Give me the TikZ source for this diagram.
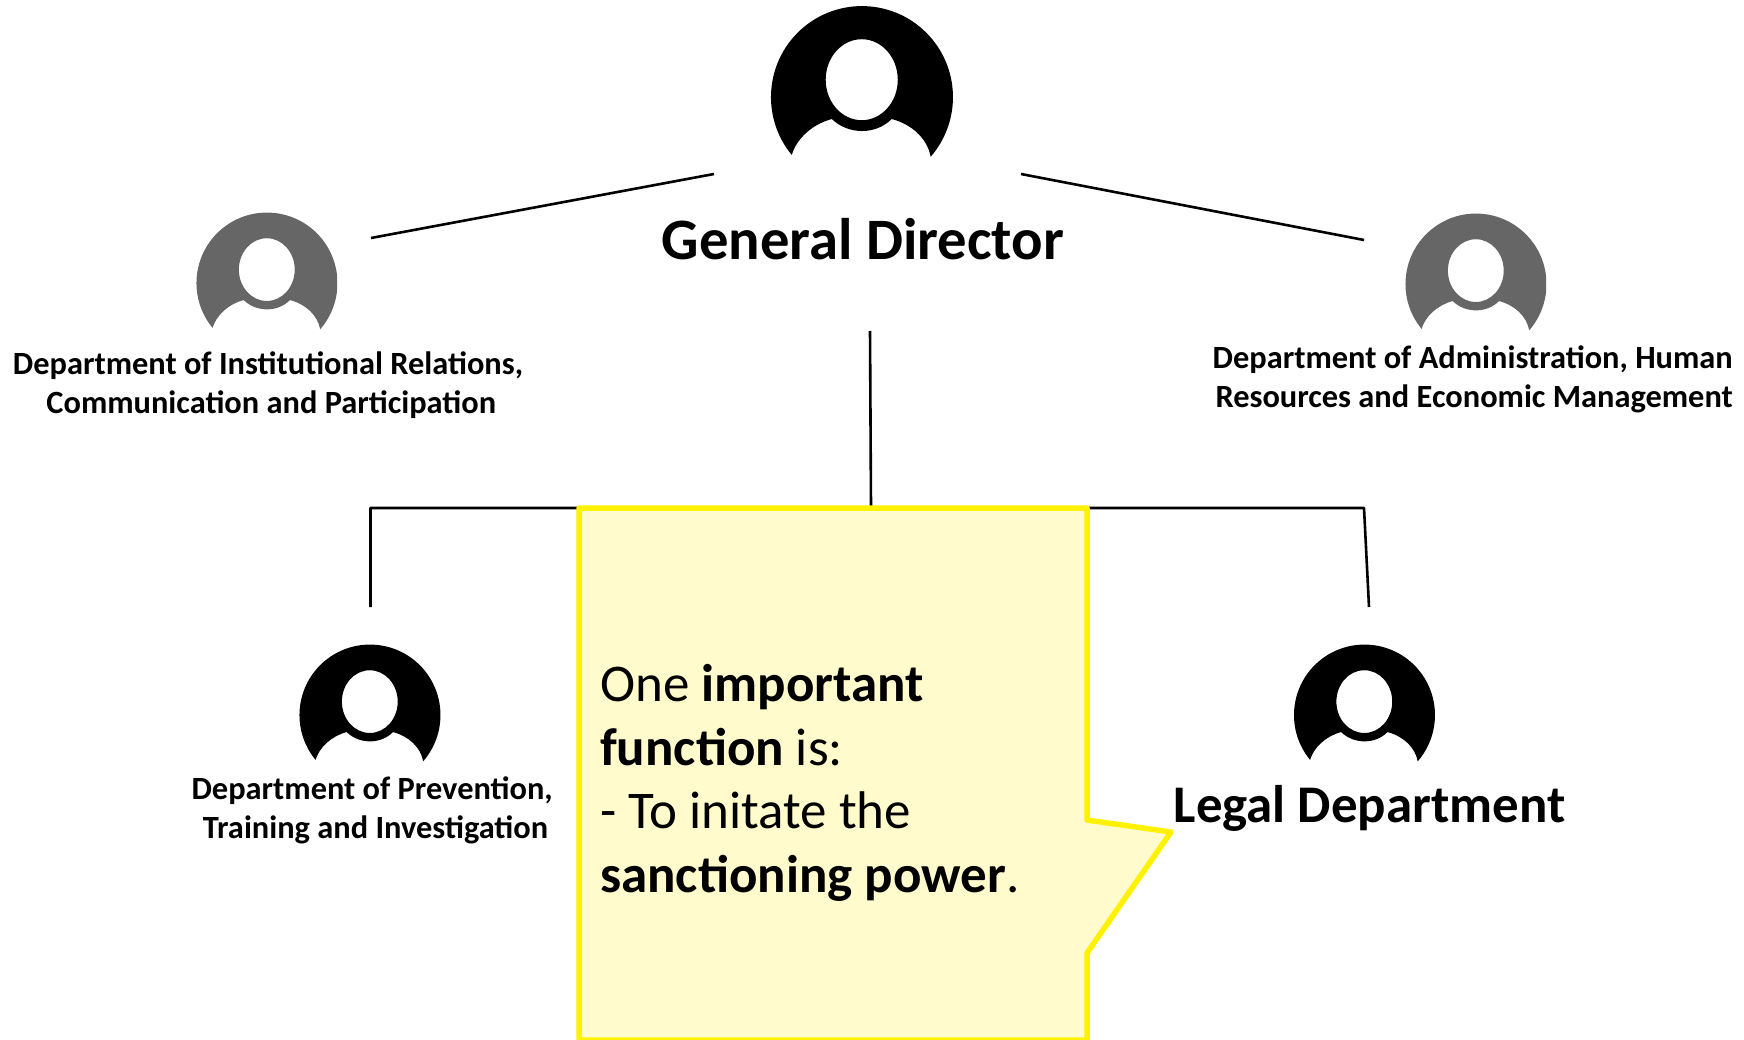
\documentclass[tikz,border=0pt]{standalone}
\usepackage{fontspec}
\setmainfont{Carlito}
\definecolor{noteyellow}{HTML}{FFF200}
\definecolor{notefill}{HTML}{FFFBCC}
\definecolor{avgrey}{HTML}{666666}
\newcommand{\avatar}[4]{% x, y, r, colour
  \begin{scope}[shift={(#1,#2)},x=#3pt,y=-#3pt]
    \fill[#4,even odd rule]
      (-0.772,0.637) arc[start angle=140.5,end angle=401,radius=1]
      .. controls (0.72,0.46) and (0.55,0.30) .. (0.326,0.242)
      .. controls (0.24,0.33) and (0.12,0.374) .. (0,0.374)
      .. controls (-0.12,0.374) and (-0.24,0.33) .. (-0.332,0.242)
      .. controls (-0.55,0.30) and (-0.72,0.46) .. cycle
      (-0.003,-0.19) ellipse[x radius=0.396,y radius=0.445];
  \end{scope}}
\tikzset{
  link/.style={draw=black,line width=2.6pt,line cap=butt,line join=round},
  note/.style={draw=noteyellow,fill=notefill,line width=5.5pt,line join=round},
  deptlabel/.style={font=\fontsize{32.4}{39}\selectfont\bfseries,align=center,inner sep=0pt,text=black},
}
\begin{document}
\begin{tikzpicture}[x=1pt,y=-1pt]
\useasboundingbox (0,0) rectangle (1744,1040);
\avatar{862}{97}{91}{black}
\begin{scope}
\clip (190,200) rectangle (337,340);
\avatar{267}{283}{70.5}{avgrey}
\end{scope}
\begin{scope}
\clip (1395,200) rectangle (1546,340);
\avatar{1476}{284}{70.5}{avgrey}
\end{scope}
\avatar{370}{715}{70.5}{black}
\avatar{1364.5}{715}{70.5}{black}

\node[inner sep=0pt,font=\fontsize{58.7}{60}\selectfont\bfseries] (gd) at (863,239) {General Director};
\node[deptlabel] (irel) at (268,385) {Department of Institutional Relations,\\\hspace*{6.6pt}Communication and Participation};
\node[deptlabel,align=right,anchor=east] (admin) at (1733,379) {Department of Administration, Human\\Resources and Economic Management};
\node[deptlabel] (prev) at (372.2,810) {Department of Prevention,\\\hspace*{6.6pt}Training and Investigation};
\node[inner sep=0pt,font=\fontsize{52.9}{56}\selectfont\bfseries] (legal) at (1369.5,808) {Legal Department};

\coordinate (gdl) at (714,174);
\coordinate (irl) at (371,238);
\coordinate (gdr) at (1021,174);
\coordinate (adr) at (1364,240);
\coordinate (gdb) at (870,331);
\coordinate (jun) at (871,508);
\coordinate (ll) at (370.5,508);
\coordinate (lb) at (370.5,607);
\coordinate (rr) at (1364,508);
\coordinate (rb) at (1369,607);
\draw[link] (gdl) -- (irl);
\draw[link] (gdr) -- (adr);
\draw[link] (gdb) -- (jun);
\draw[link] (lb) -- (ll) -- (rr) -- (rb);

\draw[note] (579,508) -- (1087,508) -- (1087,820) -- (1171,832) -- (1087,953) -- (1087,1040) -- (579,1040) -- cycle;
\node[anchor=north west,inner sep=0pt,align=left,font=\fontsize{53}{63.5}\selectfont] (txt) at (600,664.5)
  {One \textbf{important}\\\textbf{function} is:\\- To initate the\\\textbf{sanctioning power}.};
\end{tikzpicture}
\end{document}
